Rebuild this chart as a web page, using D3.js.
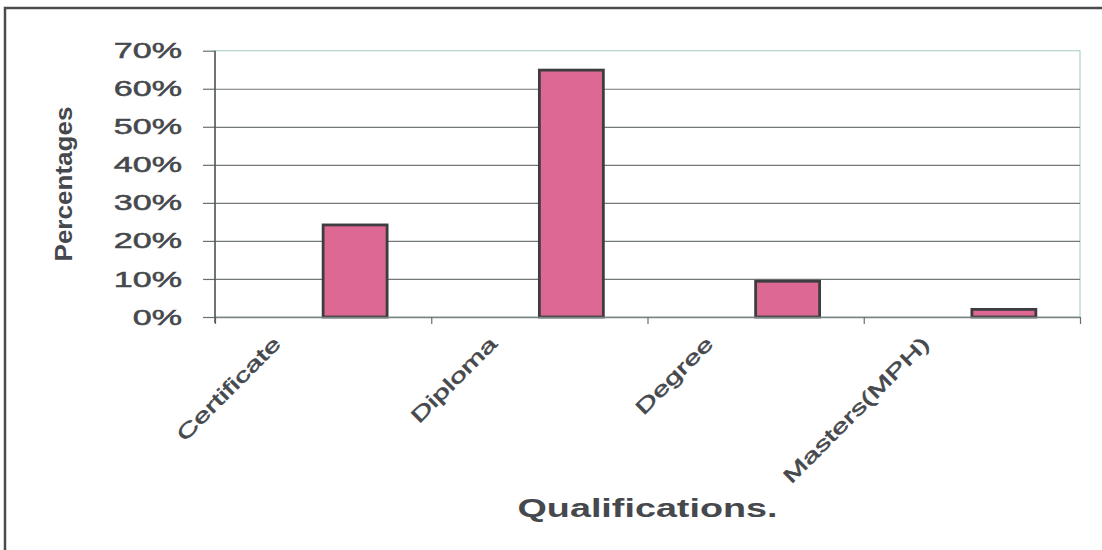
<!DOCTYPE html>
<html>
<head>
<meta charset="utf-8">
<script src="https://cdn.jsdelivr.net/npm/d3@7"></script>
<style>
  html, body { margin: 0; padding: 0; background: #fff; }
  svg { display: block; font-family: Arial, 'Liberation Sans', sans-serif; }
  .ytick text { fill: #45484c; stroke: #45484c; stroke-width: 0.5px; font-size: 22px; }
  .xlabel { fill: #45484c; stroke: #45484c; stroke-width: 0.5px; font-size: 20px; }
  .title { fill: #45484c; font-weight: bold; }
</style>
</head>
<body>
<div id="chart"></div>
<script>
const categories = ['Certificate', 'Diploma', 'Degree', 'Masters(MPH)'];
const percentages = [24.2, 64.9, 9.4, 2.0];
const yTicks = [0, 10, 20, 30, 40, 50, 60, 70];
// Excel cluster: an empty slot then the real series
const slots = ['blank', 'value'];

const W = 1102, H = 550;
const margin = { top: 50.7, right: 22, bottom: 233, left: 215 };
const innerW = W - margin.left - margin.right;
const innerH = H - margin.top - margin.bottom;

const BAR_FILL = '#dc6893';
const BAR_STROKE = '#3d3d40';

// stretch text like the scanned Excel fonts
function stretch(sel, k) {
  sel.each(function() {
    const w = this.getComputedTextLength();
    d3.select(this).attr('textLength', w * k).attr('lengthAdjust', 'spacingAndGlyphs');
  });
}

const svg = d3.select('#chart')
  .append('svg')
  .attr('width', W)
  .attr('height', H);

// outer chart frame (only top and left visible in the scan)
svg.append('rect')
  .attr('x', 5).attr('y', 8)
  .attr('width', W + 50).attr('height', H + 50)
  .attr('fill', 'none')
  .attr('stroke', '#4a4b4e')
  .attr('stroke-width', 2.5);

const g = svg.append('g').attr('transform', `translate(${margin.left},${margin.top})`);

const x = d3.scaleBand().domain(categories).range([0, innerW]).padding(0);
const xSub = d3.scaleBand().domain(slots).range([0, x.bandwidth()]).paddingInner(0).paddingOuter(0.69);
const xEdge = d3.scaleLinear().domain([0, categories.length]).range([0, innerW]);
const y = d3.scaleLinear().domain([0, 70]).range([innerH, 0]);

// plot area border (light teal)
g.append('rect')
  .attr('x', 0).attr('y', 0)
  .attr('width', innerW).attr('height', innerH)
  .attr('fill', 'none')
  .attr('stroke', '#b3d3ca')
  .attr('stroke-width', 1.2);

// gridlines
g.append('g')
  .call(d3.axisLeft(y).tickValues(yTicks.filter(d => d > 0 && d < 70)).tickSize(-innerW).tickFormat(''))
  .call(s => s.select('.domain').remove())
  .selectAll('line')
  .attr('stroke', '#72777a')
  .attr('stroke-width', 1.2);

// bars
g.selectAll('.bar')
  .data(percentages)
  .enter()
  .append('rect')
  .attr('class', 'bar')
  .attr('x', (d, i) => x(categories[i]) + xSub('value'))
  .attr('y', d => y(d))
  .attr('width', xSub.bandwidth())
  .attr('height', d => innerH - y(d))
  .attr('fill', BAR_FILL)
  .attr('stroke', BAR_STROKE)
  .attr('stroke-width', 2.8);

// x axis: ticks at category boundaries
const xAxis = g.append('g')
  .attr('transform', `translate(0,${innerH})`)
  .call(d3.axisBottom(xEdge).ticks(categories.length).tickSize(7).tickSizeOuter(0).tickFormat(''));
xAxis.select('.domain').attr('stroke', '#7d8283').attr('stroke-width', 1.3);
xAxis.selectAll('line').attr('stroke', '#6a6e70').attr('stroke-width', 1.2);

// category labels, rotated
const labels = g.selectAll('.xlabel')
  .data(categories)
  .enter()
  .append('text')
  .attr('class', 'xlabel')
  .attr('text-anchor', 'end')
  .attr('transform', d => `translate(${x(d) + x.bandwidth() * 0.31},${innerH + 28}) rotate(-45)`)
  .text(d => d);
stretch(labels, 1.53);

// y axis
const yAxis = g.append('g')
  .attr('class', 'ytick')
  .call(d3.axisLeft(y).tickValues(yTicks).tickSize(12).tickPadding(21).tickFormat(d => d + '%'));
yAxis.select('.domain').remove();
yAxis.selectAll('line').attr('stroke', '#6a6e70').attr('stroke-width', 1.2);
stretch(yAxis.selectAll('text'), 1.55);
g.append('line')
  .attr('x1', 0).attr('x2', 0)
  .attr('y1', y(70)).attr('y2', innerH + 6)
  .attr('stroke', '#55595b')
  .attr('stroke-width', 1.6);

// axis titles
const yTitle = svg.append('text')
  .attr('class', 'title')
  .attr('text-anchor', 'middle')
  .attr('transform', 'translate(72,184) rotate(-90)')
  .style('font-size', '23px')
  .text('Percentages');
yTitle.attr('textLength', 155).attr('lengthAdjust', 'spacingAndGlyphs');

const xTitle = svg.append('text')
  .attr('class', 'title')
  .attr('text-anchor', 'middle')
  .attr('x', margin.left + innerW / 2)
  .attr('y', 517)
  .style('font-size', '26px')
  .text('Qualifications.');
xTitle.attr('textLength', 260).attr('lengthAdjust', 'spacingAndGlyphs');
</script>
</body>
</html>
